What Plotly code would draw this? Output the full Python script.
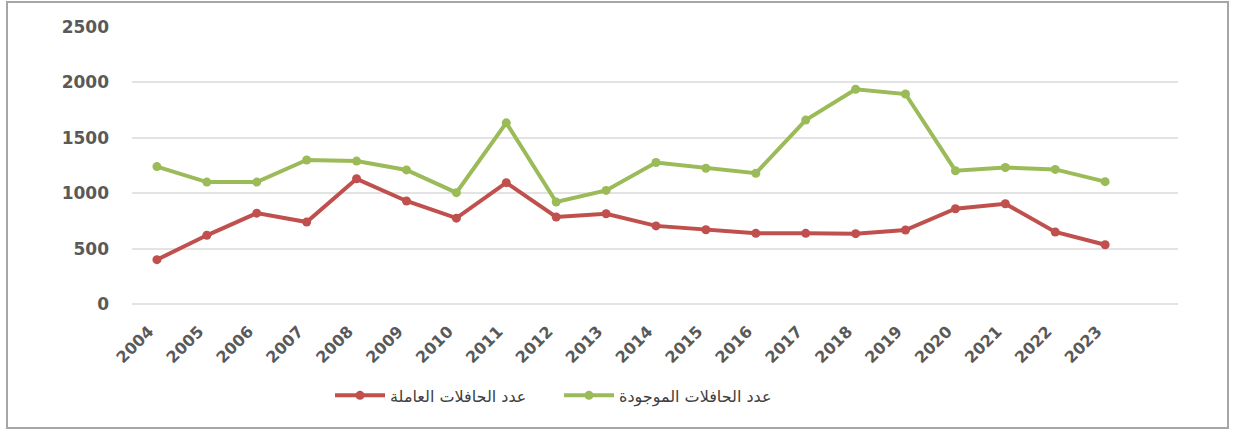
import plotly.graph_objects as go

years = [str(y) for y in range(2004, 2024)]
# Buses in service
working = [400, 620, 820, 740, 1130, 930, 775, 1095, 785, 815,
           705, 670, 638, 638, 635, 668, 860, 905, 650, 535]
# Buses available
existing = [1240, 1100, 1100, 1300, 1290, 1210, 1005, 1635, 920, 1025,
            1277, 1225, 1180, 1660, 1938, 1895, 1203, 1232, 1215, 1104]

name_working = "عدد الحافلات العاملة"
name_existing = "عدد الحافلات الموجودة"

RED = "#C0504D"
GREEN = "#9BBB59"

fig = go.Figure()
fig.add_trace(go.Scatter(
    x=years, y=working, name=name_working, mode="lines+markers",
    line=dict(color=RED, width=4), marker=dict(color=RED, size=9),
))
fig.add_trace(go.Scatter(
    x=years, y=existing, name=name_existing, mode="lines+markers",
    line=dict(color=GREEN, width=4), marker=dict(color=GREEN, size=9),
))

tick_font = dict(family="DejaVu Sans", size=16, color="#595959", weight="bold")

fig.update_layout(
    width=1238, height=435,
    margin=dict(l=132, r=60, t=27, b=131),
    paper_bgcolor="white", plot_bgcolor="white",
    font=dict(family="DejaVu Sans", color="#595959"),
    showlegend=True,
    legend=dict(orientation="h", x=(330 - 132) / 1046, xanchor="left", y=-0.33, yanchor="middle",
                font=dict(size=16, color="#404040"), itemwidth=50,
                entrywidth=164, entrywidthmode="pixels", traceorder="normal"),
    xaxis=dict(type="category", range=[-0.5, 20.46], tickangle=-45,
               showgrid=False, showline=False, ticks="", tickfont=tick_font,
               ticklabelstandoff=14, ticklabelshift=-8),
    yaxis=dict(range=[0, 2500], dtick=500, showgrid=True, gridcolor="#E3E3E3",
               gridwidth=1.5, zeroline=True, zerolinecolor="#E3E3E3", zerolinewidth=1.5,
               showline=False, ticks="", ticklabelstandoff=22,
               tickfont=dict(family="DejaVu Sans", size=17, color="#595959", weight="bold")),
    shapes=[dict(type="rect", xref="paper", yref="paper",
                 x0=(7 - 132) / 1046, x1=(1228 - 132) / 1046,
                 y0=(304 - 428) / 277, y1=(304 - 2) / 277,
                 line=dict(color="#A6A6A6", width=2), layer="below")],
)

fig.write_html("out.html")
